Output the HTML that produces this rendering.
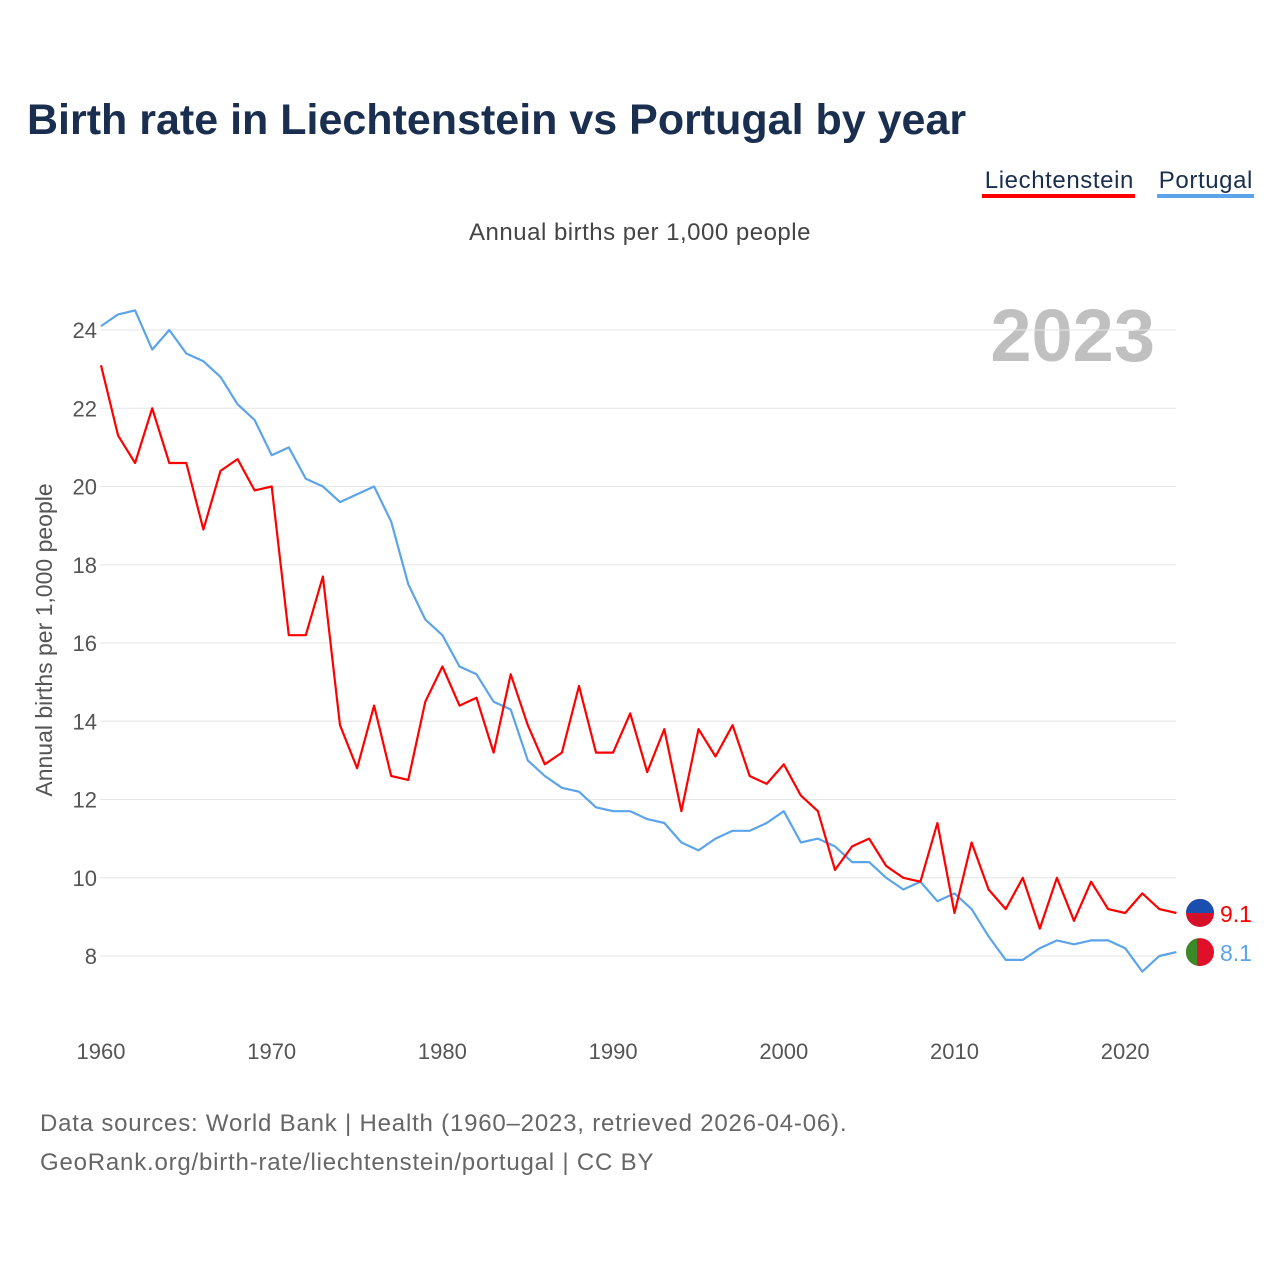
<!DOCTYPE html>
<html><head><meta charset="utf-8"><style>
body{margin:0;background:#fff;font-family:"Liberation Sans",sans-serif}
</style></head><body>
<svg width="1280" height="1280" xmlns="http://www.w3.org/2000/svg" style="font-family:'Liberation Sans',sans-serif">
<rect width="1280" height="1280" fill="#fff"/>
<text x="27" y="134" font-size="43" font-weight="bold" fill="#1a2e4f">Birth rate in Liechtenstein vs Portugal by year</text>
<g><text x="1134" y="188" text-anchor="end" font-size="24" fill="#1a2e4f" letter-spacing="0.6">Liechtenstein</text><rect x="982" y="194" width="153" height="4" fill="#ff0000"/></g>
<g><text x="1253" y="188" text-anchor="end" font-size="24" fill="#1a2e4f" letter-spacing="0.6">Portugal</text><rect x="1157" y="194" width="97" height="4" fill="#5ba4ea"/></g>
<text x="640" y="240" text-anchor="middle" font-size="24" fill="#444" letter-spacing="0.5">Annual births per 1,000 people</text>
<text x="1155" y="361" text-anchor="end" font-size="74" font-weight="bold" fill="#c0c0c0">2023</text>
<text transform="translate(52,640) rotate(-90)" text-anchor="middle" font-size="23" fill="#555">Annual births per 1,000 people</text>
<g id="grid"></g><g id="lines"></g>
<text x="40" y="1131" font-size="24" fill="#666" letter-spacing="0.8">Data sources: World Bank | Health (1960–2023, retrieved 2026-04-06).</text>
<text x="40" y="1170" font-size="24" fill="#666" letter-spacing="0.8">GeoRank.org/birth-rate/liechtenstein/portugal | CC BY</text>
</svg>
<script>
const years=[];for(let y=1960;y<=2023;y++)years.push(y);
const liechtenstein=[23.1,21.3,20.6,22.0,20.6,20.6,18.9,20.4,20.7,19.9,20.0,16.2,16.2,17.7,13.9,12.8,14.4,12.6,12.5,14.5,15.4,14.4,14.6,13.2,15.2,13.9,12.9,13.2,14.9,13.2,13.2,14.2,12.7,13.8,11.7,13.8,13.1,13.9,12.6,12.4,12.9,12.1,11.7,10.2,10.8,11.0,10.3,10.0,9.9,11.4,9.1,10.9,9.7,9.2,10.0,8.7,10.0,8.9,9.9,9.2,9.1,9.6,9.2,9.1];
const portugal=[24.1,24.4,24.5,23.5,24.0,23.4,23.2,22.8,22.1,21.7,20.8,21.0,20.2,20.0,19.6,19.8,20.0,19.1,17.5,16.6,16.2,15.4,15.2,14.5,14.3,13.0,12.6,12.3,12.2,11.8,11.7,11.7,11.5,11.4,10.9,10.7,11.0,11.2,11.2,11.4,11.7,10.9,11.0,10.8,10.4,10.4,10.0,9.7,9.9,9.4,9.6,9.2,8.5,7.9,7.9,8.2,8.4,8.3,8.4,8.4,8.2,7.6,8.0,8.1];
const yTicks=[8,10,12,14,16,18,20,22,24];
const xTicks=[1960,1970,1980,1990,2000,2010,2020];
const NS="http://www.w3.org/2000/svg";
const X=y=>101+(y-1960)*17.07, Y=v=>956-(v-8)*39.125;
const grid=document.getElementById('grid'),lines=document.getElementById('lines');
function mk(t,a,p){const e=document.createElementNS(NS,t);for(const k in a)e.setAttribute(k,a[k]);p.appendChild(e);return e;}
yTicks.forEach(v=>{const l=mk('line',{x1:100,x2:1176,y1:Y(v),y2:Y(v),stroke:'#e6e6e6','stroke-width':1},grid);


const t=mk('text',{x:97,y:Y(v)+8,'text-anchor':'end','font-size':22,fill:'#555'},grid);t.textContent=v;

});
xTicks.forEach(v=>{const t=mk('text',{x:X(v),y:1059,'text-anchor':'middle','font-size':22,fill:'#555'},grid);t.textContent=v;

});
function series(vals,col,name,flagTop,flagBot,vertical){const d=vals.map((v,i)=>(i?'L':'M')+X(years[i]).toFixed(1)+','+Y(v).toFixed(1)).join('');
const p=mk('path',{d:d,fill:'none',stroke:col,'stroke-width':2.2,'stroke-linejoin':'round'},lines);


const last=vals[vals.length-1],ly=Y(last);
const g=mk('g',{},lines);


mk('circle',{cx:1200,cy:ly,r:14,fill:flagBot},g);
if(vertical){mk('path',{d:`M1197,${ly-13.7}A14,14 0 0,0 1197,${ly+13.7}Z`,fill:flagTop},g);}
else{mk('path',{d:`M1186,${ly}A14,14 0 0,1 1214,${ly}Z`,fill:flagTop},g);}
const t=mk('text',{x:1220,y:ly+9,'font-size':23,fill:col},lines);t.textContent=last.toFixed(1);

}
series(portugal,'#5ba4ea','portugal','#3a8a2a','#e0102a',true);
series(liechtenstein,'#ff0000','liechtenstein','#1a4fb0','#d4102a',false);
</script>
</body></html>
